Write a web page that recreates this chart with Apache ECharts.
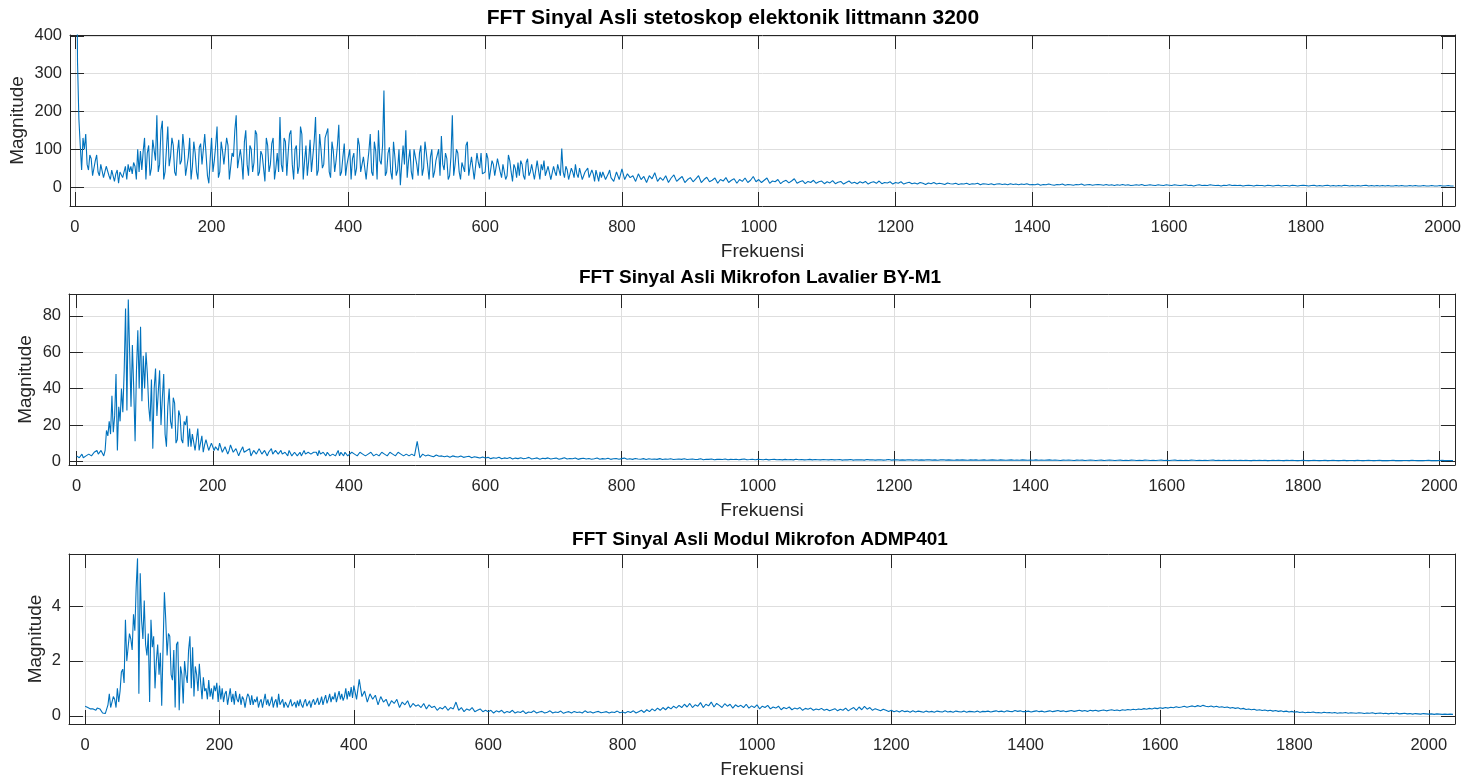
<!DOCTYPE html>
<html><head><meta charset="utf-8">
<script src="https://cdn.jsdelivr.net/npm/echarts@6/dist/echarts.min.js"></script>
<style>html,body{margin:0;padding:0;background:#fff}#c{width:1472px;height:780px}</style>
</head><body><div id="c"></div><script>
// ---- data ----
// Each spectrum is stored in two bands: a fine band starting at 0 Hz (2 Hz spacing)
// and a coarse band (4 Hz spacing) that starts where the fine band ends.
const LOW_STEP = 2;
const HIGH_STEP = 4;
const xTicks = [0, 200, 400, 600, 800, 1000, 1200, 1400, 1600, 1800, 2000];
const yTicks1 = [0, 100, 200, 300, 400];
const yTicks2 = [0, 20, 40, 60, 80];
const yTicks3 = [0, 2, 4];
const titles = [
  'FFT Sinyal Asli stetoskop elektonik littmann 3200',
  'FFT Sinyal Asli Mikrofon Lavalier BY-M1',
  'FFT Sinyal Asli Modul Mikrofon ADMP401'
];
const xName = 'Frekuensi';
const yName = 'Magnitude';

// Stetoskop: 0..798 Hz (2 Hz) then 800..2016 Hz (4 Hz)
const mag1Start = 800;
const mag1Low = [
1500,900,330,180,110,45,130,100,140,60,45,85,75,30,35,70,85,40,30,60,60,25,40,55,55,
30,20,45,40,15,35,45,10,40,45,25,30,55,20,60,40,55,35,65,55,20,100,40,95,45,
95,130,20,90,110,30,50,125,120,70,190,40,60,150,175,20,40,100,160,55,80,130,110,40,30,
90,125,60,70,140,100,30,35,80,130,20,55,120,90,40,20,105,115,60,60,140,85,30,10,75,
130,40,70,110,160,25,40,120,95,60,60,130,110,20,25,90,80,150,190,50,45,100,70,20,120,
150,60,30,110,100,40,65,150,140,30,40,95,85,50,15,130,110,40,60,115,130,20,50,90,40,
185,60,40,130,120,30,90,140,150,60,20,100,110,35,55,160,140,20,70,110,30,70,125,40,80,
120,185,30,45,140,100,50,60,130,130,155,40,25,120,95,40,70,110,165,30,40,80,115,30,60,
60,100,20,75,90,30,50,130,110,40,35,80,85,20,60,95,140,40,30,120,95,20,150,70,60,
110,255,30,40,90,105,40,20,120,80,30,45,100,5,60,110,60,150,25,70,100,40,20,100,80,
60,30,90,110,30,50,120,90,55,20,80,100,25,40,70,75,100,30,135,60,45,90,75,20,30,
80,190,30,60,100,90,40,20,65,70,40,110,120,30,55,80,80,20,15,90,65,50,90,35,40,
40,90,75,20,20,70,60,30,35,75,80,40,25,60,55,20,30,85,70,40,15,60,50,25,65,
30,70,60,30,20,65,75,30,40,60,55,20,25,70,45,20,60,45,70,30,30,55,50,20,20,
55,40,30,60,65,30,102,40,25,55,45,20,15,50,40,25,60,35,25,50,45,20,20,40,35,
50,25,20,45,35,15,45,30,15,40,25,40,35,20,20,35,45,25,30,15,20,40,45,20,25
];
const mag1High = [
48,20,35,25,30,15,35,20,28,12,30,22,38,15,25,18,30,12,24,32,15,22,28,12,20,
25,14,22,30,12,20,26,14,18,24,10,20,16,25,12,18,22,10,20,15,24,12,18,28,14,
20,12,18,24,10,16,14,20,9,15,18,11,16,22,10,14,17,9,15,12,18,10,14,16,9,
14,11,17,9,13,15,8,12,16,10,13,9,14,11,15,8,12,14,10,16,9,12,11,14,8,
12,10,14,8,11,13,9,11,8,12,10,7,11,9,12,8,10,9,7,11,9,8,10,7,9,
8,10,7,9,8,10,6,9,8,7,9,6,8,9,7,8,6,9,7,8,6,8,7,9,6,
7,6,8,5,7,6,8,6,5,7,6,8,5,7,6,5,7,6,8,5,6,7,5,6,7,
6,5,7,5,6,4,6,5,7,5,6,4,5,6,5,7,4,5,6,5,4,6,5,4,6,
5,4,6,5,4,5,6,4,5,3,5,6,4,5,4,6,5,4,5,3,5,4,6,4,5,
4,5,3,4,5,4,3,5,4,4,3,5,4,3,4,5,3,4,4,3,5,4,3,4,5,
4,3,4,5,3,4,3,4,5,3,4,3,4,3,5,4,3,4,3,4,3,4,5,3,4,
3,4,3,4,3,4,3,3,4,3,4,3,3,4,3,4,3,3,4,3,3,4,3,3,4,
3,3,4,3,3
];

// Lavalier: 0..398 Hz (2 Hz) then 400..2020 Hz (4 Hz)
const mag2Start = 400;
const mag2Low = [
3,4,2,3,4,2,2,3,3,4,5,3,3,5,5,6,4,3,6,5,3,6,17,14,22,
15,36,16,25,48,6,30,22,40,27,50,84,28,89,60,30,64,40,11,50,72,40,74,33,58,
40,60,48,30,22,45,7,40,51,25,38,50,20,35,48,15,8,30,40,22,18,35,32,10,12,
28,25,12,10,22,20,25,8,18,8,15,16,6,12,18,6,10,14,5,9,12,12,6,5,10,
10,6,8,9,6,10,9,5,4,8,8,4,6,9,10,5,4,7,7,3,5,6,8,5,4,
6,5,7,3,3,6,6,4,5,7,8,4,4,6,6,3,5,5,7,4,3,6,5,4,5,
6,4,3,5,4,3,6,5,3,4,5,6,3,4,5,3,4,6,4,3,5,6,4,3,5,
4,5,3,6,4,3,5,4,3,5,6,3,4,4,5,3,4,6,3,5,4,3,5,4,3
];
const mag2High = [
3,5,4,3,5,4,3,4,5,3,4,3,5,4,3,5,4,3,5,4,3,4,3,4,3,
11,2,4,3,3.5,3,2.5,3.5,2.8,3,2.5,3,2.2,3,2.6,2.4,3,2.2,2.5,2.8,2,2.5,2.2,1.8,2.4,
1.8,2.2,1.5,2,1.7,2.3,1.4,1.9,1.6,2.1,1.3,1.8,1.5,2,1.4,1.7,2.2,1.3,1.6,1.9,1.2,1.7,1.5,1.9,1.3,
1.6,1.8,1.2,1.5,2,1.3,1.6,1.4,1.8,1.1,1.5,1.7,1.3,1.6,1.2,1.4,1.9,1.2,1.5,1.3,1.7,1.1,1.4,1.6,1.2,
1.5,1.8,1.2,1.4,1.1,1.6,1.3,1.2,1.5,1,1.4,1.2,1.3,1.1,1.5,1,1.3,1.2,1.4,1,1.2,1.3,1.1,1.4,1,
1.2,1.3,1,1.1,1.4,0.9,1.2,1.1,1.3,0.9,1.1,1.2,1,1.3,0.9,1.1,1,1.2,0.9,1.1,1.3,0.9,1,1.2,0.9,
1.1,1,0.9,1.2,0.8,1,1.1,0.9,1,0.8,1.1,0.9,1,0.8,1.2,0.9,1,0.8,0.9,1.1,0.8,1,0.9,0.8,1,
0.9,0.8,1,0.8,0.9,1,0.7,0.9,0.8,1,0.7,0.9,0.8,0.9,0.7,1,0.8,0.9,0.7,0.8,0.9,0.7,0.8,1,0.7,
0.8,0.9,0.7,0.8,0.7,0.9,0.8,0.7,0.9,0.7,0.8,0.7,0.9,0.8,0.7,0.8,0.6,0.8,0.9,0.7,0.8,0.7,0.6,0.8,0.7,
0.8,0.7,0.6,0.8,0.7,0.8,0.6,0.7,0.8,0.6,0.7,0.8,0.7,0.6,0.8,0.7,0.6,0.7,0.8,0.6,0.7,0.6,0.8,0.7,0.6,
0.7,0.6,0.8,0.6,0.7,0.6,0.7,0.8,0.6,0.7,0.6,0.5,0.7,0.6,0.7,0.6,0.5,0.7,0.6,0.7,0.5,0.6,0.7,0.6,0.5,
0.6,0.7,0.5,0.6,0.7,0.6,0.5,0.6,0.7,0.5,0.6,0.5,0.7,0.6,0.5,0.6,0.5,0.7,0.6,0.5,0.6,0.5,0.6,0.7,0.5,
0.6,0.5,0.6,0.7,0.5,0.6,0.5,0.6,0.5,0.7,0.6,0.5,0.6,0.5,0.6,0.5,0.6,0.7,0.5,0.6,0.5,0.6,0.5,0.6,0.5,
0.6,0.5,0.6,0.5,0.6,0.5,0.4,0.6,0.5,0.6,0.5,0.6,0.4,0.5,0.6,0.5,0.6,0.5,0.4,0.6,0.5,0.6,0.5,0.4,0.5,
0.6,0.5,0.4,0.5,0.6,0.5,0.4,0.5,0.6,0.4,0.5,0.6,0.5,0.4,0.5,0.6,0.4,0.5,0.5,0.4,0.6,0.5,0.4,0.5,0.6,
0.5,0.4,0.5,0.6,0.4,0.5,0.4,0.5,0.6,0.4,0.5,0.4,0.5,0.5,0.4,0.6,0.5,0.4,0.5,0.4,0.5,0.6,0.4,0.5,0.4,
0.5,0.6,0.4,0.5,0.5,0.4
];

// ADMP401: 0..398 Hz (2 Hz) then 400..2036 Hz (4 Hz)
const mag3Start = 400;
const mag3Low = [
0.35,0.3,0.3,0.25,0.25,0.3,0.25,0.2,0.2,0.28,0.3,0.25,0.2,0.1,0.1,0.08,0.15,0.4,0.8,0.3,0.35,0.7,0.6,0.3,1.0,
0.5,0.9,1.6,1.7,1.2,3.5,2.0,2.0,3.0,2.8,2.4,3.7,3.1,4.7,5.74,0.8,5.2,3.5,2.8,4.2,2.6,2.2,3.0,0.5,3.5,
2.5,2.9,1.0,2.0,2.6,1.5,2.3,0.37,2.5,4.5,3.5,2.2,3.0,2.9,1.5,1.3,2.4,0.3,2.6,2.7,0.2,1.8,1.5,0.45,2.0,
1.5,1.2,2.4,2.9,1.0,2.5,0.7,1.8,1.5,0.9,1.9,1.2,0.6,1.4,0.9,1.0,0.6,1.3,0.7,1.0,0.6,1.1,0.9,1.2,0.5,
1.1,0.6,1.0,0.5,0.8,0.9,0.4,0.7,1.0,0.5,0.8,0.4,0.9,0.6,0.5,0.8,0.4,0.7,0.6,0.3,0.6,0.8,0.7,0.4,0.75,
0.4,0.6,0.5,0.7,0.3,0.5,0.6,0.3,0.55,0.8,0.4,0.6,0.35,0.5,0.7,0.3,0.5,0.6,0.3,0.8,0.4,0.5,0.6,0.3,0.5,
0.5,0.3,0.45,0.6,0.35,0.4,0.5,0.3,0.55,0.35,0.6,0.4,0.3,0.5,0.6,0.35,0.4,0.55,0.3,0.5,0.6,0.4,0.5,0.65,0.4,
0.5,0.7,0.4,0.6,0.75,0.45,0.6,0.8,0.5,0.7,0.6,0.85,0.5,0.7,0.9,0.6,0.8,0.55,0.7,1.0,0.6,0.9,0.7,1.05,0.65
];
const mag3High = [
1.1,0.6,1.33,0.7,0.9,0.5,0.8,0.6,0.75,0.4,0.7,0.5,0.6,0.35,0.55,0.45,0.6,0.3,0.5,0.4,0.55,0.3,0.45,0.35,0.4,
0.3,0.45,0.25,0.4,0.3,0.35,0.2,0.3,0.25,0.35,0.2,0.3,0.25,0.5,0.2,0.3,0.15,0.25,0.2,0.3,0.15,0.2,0.25,0.15,0.2,
0.15,0.2,0.1,0.18,0.14,0.2,0.1,0.16,0.12,0.2,0.1,0.15,0.12,0.18,0.08,0.14,0.12,0.18,0.1,0.14,0.16,0.1,0.13,0.18,0.1,
0.14,0.12,0.17,0.09,0.13,0.15,0.1,0.16,0.12,0.14,0.1,0.18,0.12,0.15,0.1,0.14,0.16,0.11,0.13,0.15,0.1,0.14,0.12,0.17,0.11,
0.14,0.1,0.16,0.12,0.18,0.1,0.15,0.2,0.12,0.22,0.15,0.25,0.18,0.28,0.2,0.3,0.22,0.32,0.25,0.35,0.28,0.38,0.3,0.42,0.32,
0.45,0.3,0.4,0.35,0.48,0.3,0.42,0.36,0.5,0.32,0.45,0.38,0.3,0.44,0.35,0.42,0.28,0.4,0.33,0.38,0.3,0.42,0.28,0.36,0.3,
0.4,0.25,0.35,0.3,0.38,0.25,0.32,0.28,0.35,0.22,0.3,0.26,0.32,0.22,0.28,0.25,0.3,0.2,0.27,0.24,0.28,0.2,0.25,0.22,0.27,
0.2,0.24,0.18,0.22,0.26,0.18,0.24,0.2,0.28,0.18,0.25,0.3,0.2,0.32,0.22,0.34,0.24,0.3,0.2,0.26,0.22,0.18,0.24,0.2,0.16,
0.2,0.15,0.18,0.14,0.19,0.15,0.17,0.13,0.18,0.14,0.17,0.15,0.13,0.17,0.14,0.16,0.13,0.17,0.15,0.14,0.18,0.14,0.16,0.13,0.17,
0.15,0.14,0.17,0.13,0.16,0.15,0.14,0.17,0.13,0.16,0.15,0.17,0.14,0.16,0.18,0.15,0.17,0.14,0.18,0.16,0.15,0.19,0.16,0.18,0.15,
0.15,0.17,0.14,0.16,0.18,0.15,0.17,0.14,0.16,0.18,0.15,0.17,0.19,0.16,0.18,0.15,0.17,0.19,0.16,0.18,0.2,0.17,0.19,0.16,0.2,
0.18,0.2,0.17,0.19,0.21,0.18,0.2,0.22,0.19,0.21,0.18,0.22,0.2,0.23,0.21,0.24,0.22,0.25,0.23,0.26,0.24,0.27,0.25,0.28,0.26,
0.29,0.27,0.3,0.28,0.31,0.29,0.33,0.3,0.32,0.35,0.31,0.34,0.36,0.33,0.37,0.34,0.38,0.35,0.33,0.36,0.32,0.35,0.31,0.33,0.3,
0.32,0.28,0.3,0.27,0.29,0.25,0.27,0.23,0.25,0.22,0.24,0.2,0.22,0.19,0.21,0.18,0.2,0.17,0.19,0.16,0.18,0.15,0.17,0.14,0.16,
0.13,0.15,0.12,0.14,0.11,0.13,0.12,0.14,0.11,0.12,0.1,0.13,0.11,0.12,0.1,0.12,0.09,0.11,0.1,0.12,0.09,0.11,0.1,0.09,0.11,
0.1,0.08,0.1,0.09,0.11,0.08,0.09,0.1,0.08,0.09,0.07,0.09,0.08,0.1,0.07,0.08,0.09,0.07,0.08,0.06,0.08,0.07,0.06,0.08,0.07,
0.06,0.07,0.05,0.07,0.06,0.05,0.06,0.05,0.06,0.05
];

// ---- layout / style ----
const FONT = '"Liberation Sans", Arial, Helvetica, sans-serif';
const INK = '#262626';
const GRIDC = '#dedede';
const LINE = '#0072BD';
const panels = [
  {top: 35,  height: 171, xMin: -7,  xMax: 2018, yMin: -50,  yMax: 402, yTicks: yTicks1, yGap: 43,
   low: mag1Low, high: mag1High, start: mag1Start, titleX: 733, titleY: 18, titleSize: 21},
  {top: 294, height: 171, xMin: -11, xMax: 2023, yMin: -2,   yMax: 92,  yTicks: yTicks2, yGap: 34,
   low: mag2Low, high: mag2High, start: mag2Start, titleX: 760, titleY: 278, titleSize: 19},
  {top: 554, height: 170, xMin: -24, xMax: 2039, yMin: -0.3, yMax: 5.9, yTicks: yTicks3, yGap: 24,
   low: mag3Low, high: mag3High, start: mag3Start, titleX: 760, titleY: 540, titleSize: 19}
];
const plain = v => String(v);

const grid = [], xAxis = [], yAxis = [], series = [], graphic = [];
panels.forEach((p, i) => {
  grid.push({left: 69, right: 17, top: p.top, height: p.height, containLabel: false});
  ['bottom', 'top'].forEach((pos, k) => {
    xAxis.push({
      type: 'value', gridIndex: i, position: pos, min: p.xMin, max: p.xMax,
      axisLine: {show: true, onZero: false, lineStyle: {color: INK, width: 1}},
      axisTick: {show: true, inside: true, length: 14, customValues: xTicks, lineStyle: {color: INK, width: 1}},
      axisLabel: {show: k === 0, customValues: xTicks, formatter: plain, color: INK, fontSize: 16.5, fontFamily: FONT, margin: 13},
      splitLine: {show: k === 0, lineStyle: {color: GRIDC, width: 1}},
      name: k === 0 ? xName : '', nameLocation: 'middle', nameGap: 36, nameMoveOverlap: false,
      nameTextStyle: {color: INK, fontSize: 19, fontFamily: FONT}
    });
  });
  ['left', 'right'].forEach((pos, k) => {
    yAxis.push({
      type: 'value', gridIndex: i, position: pos, min: p.yMin, max: p.yMax,
      axisLine: {show: true, onZero: false, lineStyle: {color: INK, width: 1}},
      axisTick: {show: true, inside: true, length: 14, customValues: p.yTicks, lineStyle: {color: INK, width: 1}},
      axisLabel: {show: k === 0, customValues: p.yTicks, formatter: plain, color: INK, fontSize: 16.5, fontFamily: FONT, margin: 8},
      splitLine: {show: k === 0, lineStyle: {color: GRIDC, width: 1}},
      name: k === 0 ? yName : '', nameLocation: 'middle', nameGap: p.yGap, nameMoveOverlap: false,
      nameTextStyle: {color: INK, fontSize: 19, fontFamily: FONT}
    });
  });
  const data = p.low.map((v, j) => [j * LOW_STEP, v])
    .concat(p.high.map((v, j) => [p.start + j * HIGH_STEP, v]));
  series.push({
    type: 'line', xAxisIndex: i * 2, yAxisIndex: i * 2, data,
    showSymbol: false, symbol: 'none', clip: true,
    lineStyle: {color: LINE, width: 1.1}, itemStyle: {color: LINE},
    animation: false, silent: true
  });
  graphic.push({
    type: 'text', x: p.titleX, y: p.titleY,
    style: {text: titles[i], align: 'center', verticalAlign: 'middle', fill: '#000',
            font: 'bold ' + p.titleSize + 'px ' + FONT}
  });
});

const chart = echarts.init(document.getElementById('c'), null, {renderer: 'canvas'});
chart.setOption({animation: false, backgroundColor: '#fff', grid, xAxis, yAxis, series, graphic});
</script></body></html>
